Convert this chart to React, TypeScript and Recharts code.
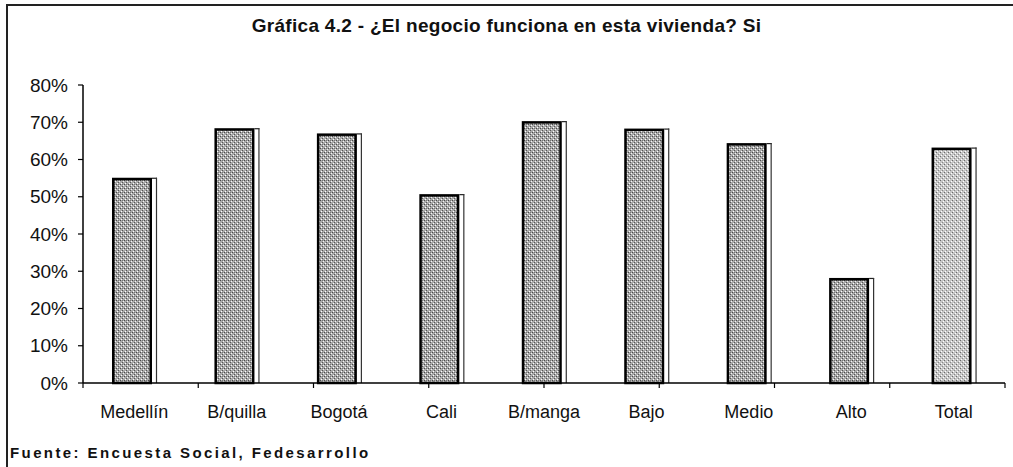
import React from "react";
import { BarChart, Bar, XAxis, YAxis, Cell } from "recharts";

const categories = ["Medellín", "B/quilla", "Bogotá", "Cali", "B/manga", "Bajo", "Medio", "Alto", "Total"];
const values = [55.1, 68.4, 67.0, 50.7, 70.3, 68.3, 64.4, 28.2, 63.2];
const yTicks = [0, 10, 20, 30, 40, 50, 60, 70, 80];
const boundaryTicks = [0, 1, 2, 3, 4, 5, 6, 7, 8, 9];
const title = "Gráfica 4.2 - ¿El negocio funciona en esta vivienda? Si";
const source = "Fuente: Encuesta Social, Fedesarrollo";

const data = categories.map((name, i) => ({ name, value: values[i] }));

const FONT = "'Liberation Sans', Arial, sans-serif";

const BarShape = (props: any) => {
  const { x, y, width, height, fill } = props;
  if (height <= 0) return null;
  const inner = width - 5;
  return (
    <g>
      <rect x={x + 1.25} y={y + 1.25} width={inner - 2.5} height={height - 1.25} fill={fill} stroke="#000" strokeWidth={2.5} />
      <line x1={x + inner} y1={y + 0.5} x2={x + width} y2={y + 0.5} stroke="#222" strokeWidth={1.2} />
      <line x1={x + width - 0.5} y1={y} x2={x + width - 0.5} y2={y + height} stroke="#333" strokeWidth={1.2} />
    </g>
  );
};

export default function App() {
  return (
    <div style={{ position: "absolute", left: 0, top: 0, width: 1013, height: 467, background: "#fff", fontFamily: FONT }}>
      <div style={{ position: "absolute", left: 6, top: 4, width: 1007, height: 2, background: "#222" }} />
      <div style={{ position: "absolute", left: 6, top: 4, width: 2, height: 463, background: "#222" }} />
      <div style={{ position: "absolute", left: 0, top: 15, width: 1013, textAlign: "center", fontWeight: "bold", fontSize: 19, color: "#111", letterSpacing: 0.3 }}>
        {title}
      </div>
      <div style={{ position: "absolute", left: 10, top: 444, fontWeight: "bold", fontSize: 15, color: "#111", letterSpacing: 2.4, whiteSpace: "nowrap" }}>
        {source}
      </div>
      <div style={{ position: "absolute", left: 0, top: 0 }}>
        <BarChart width={1013} height={467} data={data} margin={{ top: 85, right: 8, bottom: 53, left: 0 }}>
          <defs>
            <pattern id="stip" width="4" height="4" patternUnits="userSpaceOnUse">
              <rect width="4" height="4" fill="#a9a9a9" />
              <rect x="0" y="0" width="1" height="1" fill="#4a4a4a" />
              <rect x="2" y="2" width="1" height="1" fill="#555" />
              <rect x="1" y="3" width="1" height="1" fill="#fff" />
              <rect x="3" y="1" width="1" height="1" fill="#f4f4f4" />
              <rect x="2" y="0" width="1" height="1" fill="#777" />
            </pattern>
            <pattern id="stipLight" width="4" height="4" patternUnits="userSpaceOnUse">
              <rect width="4" height="4" fill="#c6c6c6" />
              <rect x="0" y="0" width="1" height="1" fill="#6a6a6a" />
              <rect x="2" y="2" width="1" height="1" fill="#888" />
              <rect x="1" y="3" width="1" height="1" fill="#fff" />
              <rect x="3" y="1" width="1" height="1" fill="#fff" />
            </pattern>
          </defs>
          <XAxis
            xAxisId="bound"
            type="number"
            domain={[0, 9]}
            ticks={boundaryTicks}
            interval={0}
            height={1}
            axisLine={{ stroke: "#000", strokeWidth: 1.5 }}
            tickLine={{ stroke: "#000", strokeWidth: 1.2 }}
            tickSize={5}
            tick={() => <g />}
            allowDataOverflow
          />
          <XAxis
            xAxisId="cat"
            dataKey="name"
            height={30}
            axisLine={false}
            tickLine={false}
            tickSize={6}
            tickMargin={15}
            interval={0}
            tick={{ fill: "#111", fontSize: 18, fontFamily: FONT }}
          />
          <YAxis
            width={83}
            domain={[0, 80]}
            ticks={yTicks}
            interval={0}
            tickFormatter={(v: number) => `${v}%`}
            axisLine={{ stroke: "#000", strokeWidth: 1.5 }}
            tickLine={{ stroke: "#000", strokeWidth: 1.2 }}
            tickSize={5}
            tickMargin={10}
            tick={{ fill: "#111", fontSize: 19, fontFamily: FONT }}
          />
          <Bar dataKey="value" xAxisId="cat" barSize={45} isAnimationActive={false} shape={<BarShape />}>
            {data.map((d, i) => (
              <Cell key={d.name} fill={d.name === "Total" ? "url(#stipLight)" : "url(#stip)"} />
            ))}
          </Bar>
        </BarChart>
      </div>
    </div>
  );
}
